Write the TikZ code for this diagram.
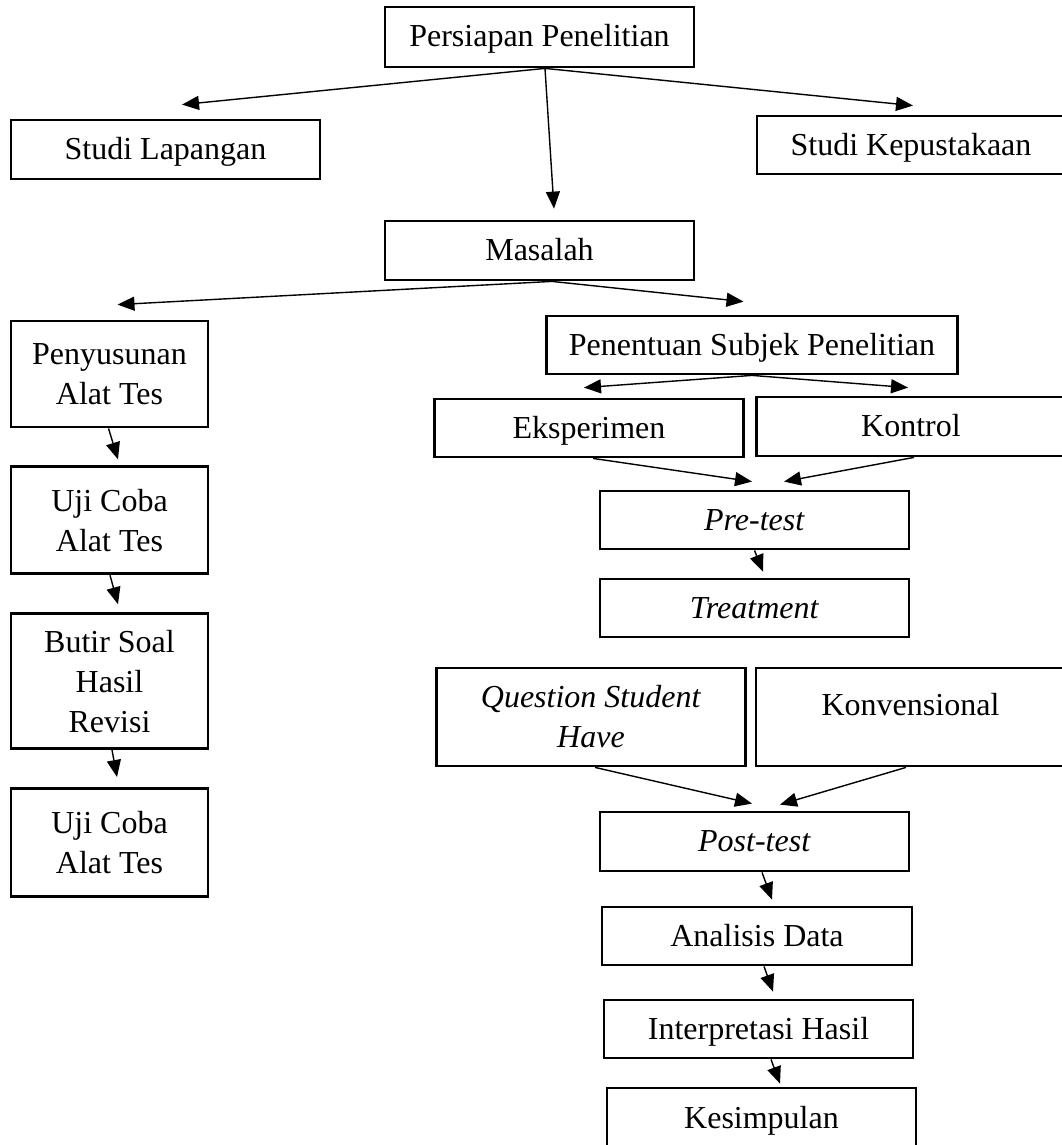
\documentclass[tikz,border=0pt]{standalone}
\usepackage{fontspec}
\setmainfont{Liberation Serif}
\usetikzlibrary{arrows.meta,positioning}

\begin{document}
\begin{tikzpicture}[
    x=1pt, y=-1pt,
    node distance=37pt,
    every node/.style={font=\fontsize{32}{40}\selectfont, align=center},
    kotak/.style={draw, line width=2.8pt, inner sep=0pt, minimum width=309pt, minimum height=58pt},
    tunggal/.style={kotak, text height=22pt, text depth=2pt},
    sempit/.style={kotak, minimum width=197pt},
    arr/.style={-{Triangle[length=17pt, width=14pt]}, line width=1.4pt}
]
\useasboundingbox (0,0) rectangle (1062,1145);
\node (persiapan) [tunggal, minimum height=60pt] at (539.5,37) {Persiapan Penelitian};
\node (lapangan) [tunggal, minimum height=59pt] at (165.5,149.5) {Studi Lapangan};
\node (kepustakaan) [tunggal, minimum width=308pt] at (911,145) {Studi Kepustakaan};
\node (masalah) [tunggal, minimum height=59pt] at (539.5,250.5) {Masalah};
\node (penentuan) [tunggal, minimum width=411pt] at (752,345) {Penentuan Subjek Penelitian};
\node (eksperimen) [tunggal] at (589,428) {Eksperimen};
\node (kontrol) [tunggal, minimum height=59pt] at (911,426.5) {Kontrol};
\node (pretest) [tunggal] at (754.5,520) {\textit{Pre-test}};
\node (treatment) [tunggal] at (754.5,608) {\textit{Treatment}};
\node (qsh) [kotak, minimum height=98pt] at (591,717) {\textit{Question Student}\\\textit{Have}};
\node (konvensional) [kotak, minimum height=98pt] at (910.5,717) {Konvensional\\[-15pt]\mbox{}};
\node (posttest) [tunggal, minimum height=59pt] at (754.5,841.5) {\textit{Post-test}};
\node (analisis) [tunggal, minimum width=310pt] at (757,936) {Analisis Data};
\node (interpretasi) [tunggal] at (758.5,1029) {Interpretasi Hasil};
\node (kesimpulan) [tunggal, minimum height=60pt] at (761.5,1118) {Kesimpulan};
% kolom kiri
\node (penyusunan) [sempit, minimum height=106pt] at (109.5,374) {Penyusunan\\Alat Tes};
\node (ujicoba) [sempit, minimum height=107pt, below=of penyusunan] {Uji Coba\\Alat Tes};
\node (butir) [sempit, minimum height=135pt, below=of ujicoba] {Butir Soal\\Hasil\\Revisi};
\node (ujicobadua) [sempit, minimum height=108pt, below=of butir] {Uji Coba\\Alat Tes};
% panah
\draw[arr] ([xshift=5.5pt]persiapan.south) -- ([xshift=16.5pt,yshift=14pt]lapangan.north);
\draw[arr] ([xshift=5.5pt]persiapan.south) -- ([xshift=2pt,yshift=9pt]kepustakaan.north);
\draw[arr] ([xshift=5.5pt]persiapan.south) -- ([xshift=14.5pt,yshift=11pt]masalah.north);
\draw[arr] ([xshift=12.5pt]masalah.south) -- ([xshift=8pt,yshift=15pt]penyusunan.north);
\draw[arr] ([xshift=12.5pt]masalah.south) -- ([xshift=-8.5pt,yshift=13pt]penentuan.north);
\draw[arr] (penentuan.south) -- ([xshift=-5pt,yshift=10pt]eksperimen.north);
\draw[arr] (penentuan.south) -- ([xshift=-3pt,yshift=8pt]kontrol.north);
\draw[arr] ([xshift=4pt]eksperimen.south) -- ([xshift=-2.5pt,yshift=8pt]pretest.north);
\draw[arr] ([xshift=3pt]kontrol.south) -- ([xshift=29.5pt,yshift=8pt]pretest.north);
\draw[arr] (pretest.south) -- ([xshift=8.5pt,yshift=6pt]treatment.north);
\draw[arr] ([xshift=4pt]qsh.south) -- ([xshift=-2.5pt,yshift=7pt]posttest.north);
\draw[arr] ([xshift=-4.5pt]konvensional.south) -- ([xshift=25.5pt,yshift=6pt]posttest.north);
\draw[arr] ([xshift=7.5pt]posttest.south) -- ([xshift=15pt,yshift=6pt]analisis.north);
\draw[arr] ([xshift=7pt]analisis.south) -- ([xshift=14.5pt,yshift=7pt]interpretasi.north);
\draw[arr] ([xshift=12.5pt]interpretasi.south) -- ([xshift=18.5pt,yshift=3pt]kesimpulan.north);
\draw[arr] ([xshift=-1pt]penyusunan.south) -- ([xshift=8.5pt,yshift=6pt]ujicoba.north);
\draw[arr] ([xshift=0.5pt]ujicoba.south) -- ([xshift=8.5pt,yshift=8pt]butir.north);
\draw[arr] ([xshift=2.5pt]butir.south) -- ([xshift=7.5pt,yshift=10pt]ujicobadua.north);
\end{tikzpicture}
\end{document}
